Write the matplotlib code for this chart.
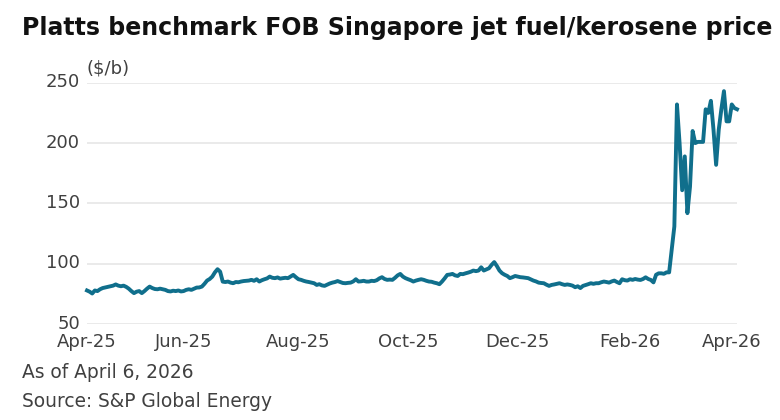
import numpy as np
import pandas as pd
import matplotlib
matplotlib.use('Agg')
import matplotlib.pyplot as plt
import matplotlib.transforms as mtransforms

plt.rcParams['font.family'] = ['DejaVu Sans']

# Singapore trading days, Apr 7 2025 .. Apr 6 2026 (holidays skipped)
holidays = ['2025-04-18', '2025-05-01', '2025-05-12', '2025-08-11', '2025-10-20',
            '2025-12-25', '2026-01-01', '2026-02-17', '2026-02-18', '2026-03-20',
            '2026-04-03']
dates = pd.bdate_range('2025-04-07', '2026-04-06', freq='C', holidays=holidays)

# $/b
price = [
    78, 77, 75.5, 78, 77.5, 79, 80, 80.5, 81, 81.5,
    82, 83, 82, 81.5, 82, 81, 79.5, 77.5, 75.8, 77,
    77.5, 75.8, 77.5, 79.5, 81.2, 80, 79.2, 79, 79.5, 79,
    78.5, 77.5, 77.2, 77.8, 77.5, 78, 77.2, 77.5, 78.5, 79,
    78.5, 79.5, 80.4, 80.5, 81.2, 83.5, 86.2, 87.5, 89.5, 93,
    95.6, 93.6, 85.3, 85, 85.4, 84.5, 84, 85, 84.8, 85.4,
    85.8, 86, 86.2, 86.8, 86, 87.3, 85.4, 86.5, 87.3, 88,
    89.5, 88.5, 88.2, 88.8, 87.8, 88.2, 88.5, 88.2, 89.5, 90.9,
    89, 87.3, 86.8, 86, 85.4, 85, 84.5, 84, 82.6, 83.2,
    82.2, 81.8, 82.8, 83.8, 84.5, 85, 85.8, 85, 84.2, 84,
    84.3, 84.5, 85.5, 87.3, 85.4, 85.6, 86, 85.4, 85.4, 86,
    85.8, 86.5, 88, 89, 87.5, 86.8, 87, 86.8, 88.5, 90.5,
    91.7, 89.5, 88.2, 87.3, 86.5, 85.4, 86.2, 86.8, 87.3, 86.8,
    86, 85.4, 85.2, 84.5, 84, 83.2, 85.4, 88, 90.9, 91.2,
    91.7, 90.5, 90, 91.7, 91.5, 92.2, 92.8, 93.5, 94.5, 94,
    94.5, 97.2, 94.5, 95.5, 96.4, 99.2, 101.5, 98.3, 94.5, 92.3,
    91, 90, 88.2, 89, 90, 89.5, 89, 88.8, 88.5, 88.2,
    87.2, 86.2, 85.5, 84.5, 84.2, 84, 82.8, 81.8, 82.6, 83,
    83.5, 84, 83.2, 82.6, 83, 82.6, 82, 80.7, 81.5, 80,
    81.8, 82.5, 83.2, 84, 83.5, 84, 84, 84.8, 85.4, 85,
    84.5, 85.5, 86.2, 85, 84, 87.3, 86.5, 86.2, 87.3, 86.8,
    87.5, 87, 86.7, 87.5, 88.9, 87.5, 86.7, 84.7, 91, 92.2,
    92.2, 91.8, 93, 93, 112, 131, 232, 200, 161, 189,
    142, 164, 210, 200, 201, 201, 201, 228, 225, 235,
    211, 182, 211, 228, 243, 218, 218, 232, 229, 228,
]

yticks = [50, 100, 150, 200, 250]
tick_months = ['2025-04', '2025-06', '2025-08', '2025-10', '2025-12', '2026-02', '2026-04']

line_color = '#106f8c'
text_color = '#404040'

x = np.arange(len(price))
month = dates.strftime('%Y-%m')
tick_pos = [int(np.argmax(month == m)) for m in tick_months]
tick_lab = [pd.Timestamp(m).strftime('%b-%y') for m in tick_months]

fig = plt.figure(figsize=(7.8, 4.2), dpi=100)
ax = fig.add_axes([87 / 780, 1 - 324.3 / 420, 650 / 780, (324.3 - 82.7) / 420])

ax.plot(x, price, color=line_color, linewidth=2.8, solid_joinstyle='round',
        clip_on=False, zorder=3)

ax.set_xlim(0, len(price) - 1)
ax.set_ylim(50, 250)
ax.set_yticks(yticks)
ax.set_xticks(tick_pos)
ax.set_xticklabels(tick_lab)
ax.grid(axis='y', color='#e6e6e6', linewidth=1.2)
ax.set_axisbelow(True)
for s in ax.spines.values():
    s.set_visible(False)
ax.tick_params(length=0, labelsize=13, labelcolor=text_color)
ax.tick_params(axis='y', pad=5)
ax.tick_params(axis='x', pad=6)

# y labels sit a little above their gridlines
shift = mtransforms.ScaledTranslation(0, 2.5 / 100, fig.dpi_scale_trans)
for lab in ax.get_yticklabels():
    lab.set_transform(lab.get_transform() + shift)

ax.text(0, 1.02, '($/b)', transform=ax.transAxes, fontsize=13,
        color=text_color, ha='left', va='bottom')

fig.text(22 / 780, 1 - 35 / 420, 'Platts benchmark FOB Singapore jet fuel/kerosene price',
         fontsize=17, fontweight='bold', color='#111111', ha='left', va='baseline')
fig.text(22 / 780, 1 - 378 / 420, 'As of April 6, 2026', fontsize=13.4,
         color=text_color, ha='left', va='baseline')
fig.text(22 / 780, 1 - 407 / 420, 'Source: S&P Global Energy', fontsize=13.4,
         color=text_color, ha='left', va='baseline')

fig.savefig('out.png', dpi=100)
